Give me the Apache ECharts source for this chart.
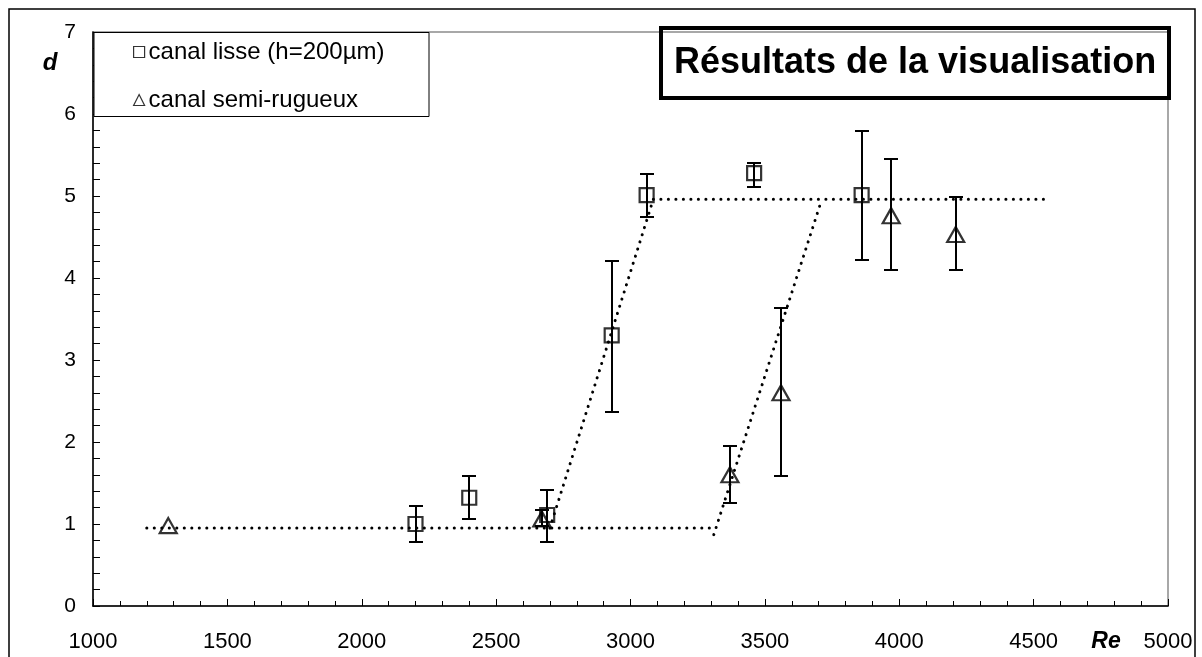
<!DOCTYPE html>
<html><head><meta charset="utf-8">
<script src="https://cdn.jsdelivr.net/npm/echarts@6/dist/echarts.min.js"></script>
<style>html,body{margin:0;padding:0;background:#fff}#c{width:1202px;height:657px}</style>
</head><body><div id="c"></div>
<script>
// ---- data ----
const smoothRe   = [2200, 2400, 2690, 2930, 3060, 3460, 3860];
const smoothD    = [1.00, 1.32, 1.11, 3.30, 5.01, 5.28, 5.01];
const smoothLow  = [0.78, 1.06, 0.78, 2.37, 4.74, 5.11, 4.22];
const smoothHigh = [1.22, 1.58, 1.42, 4.21, 5.27, 5.40, 5.79];
const roughRe    = [1280, 2670, 3370, 3560, 3970, 4210];
const roughD     = [0.98, 1.06, 1.60, 2.60, 4.76, 4.53];
const roughLow   = [null, 0.97, 1.26, 1.59, 4.10, 4.10];
const roughHigh  = [null, 1.17, 1.95, 3.63, 5.45, 4.99];
const lowPlateauRe = [1200, 3300];  const lowPlateauD = [0.95, 0.95];
const highPlateauRe = [3085, 4540]; const highPlateauD = [4.96, 4.96];
const smoothRiseRe = [2700, 3085];  const smoothRiseD = [0.95, 4.96];
const roughRiseRe = [3310, 3712];   const roughRiseD = [0.87, 4.96];
const seriesNames = ['canal lisse (h=200µm)', 'canal semi-rugueux'];
const titleText = 'Résultats de la visualisation';
const xName = 'Re', yName = 'd';

const FONT = 'Liberation Sans, Arial, sans-serif';
const pairs = (a, b) => a.map((v, i) => [v, b[i]]);

function errSeries(re, lo, hi) {
  return {
    type: 'custom', silent: true, z: 3,
    data: re.map((r, i) => lo[i] == null ? null : [r, lo[i], hi[i]]).filter(Boolean),
    encode: { x: 0, y: [1, 2] },
    renderItem(params, api) {
      const x = api.value(0);
      const p1 = api.coord([x, api.value(1)]);
      const p2 = api.coord([x, api.value(2)]);
      const cx = Math.round(p1[0]);
      const y1 = Math.round(p1[1]), y2 = Math.round(p2[1]);
      const hw = 7;
      const st = { stroke: '#000', lineWidth: 2 };
      return { type: 'group', children: [
        { type: 'line', shape: { x1: cx, y1: y1, x2: cx, y2: y2 }, style: st },
        { type: 'line', shape: { x1: cx - hw, y1: y1, x2: cx + hw, y2: y1 }, style: st },
        { type: 'line', shape: { x1: cx - hw, y1: y2, x2: cx + hw, y2: y2 }, style: st }
      ]};
    }
  };
}
function dotted(re, d) {
  return {
    type: 'line', data: pairs(re, d), symbol: 'none', silent: true, z: 2,
    lineStyle: { color: '#000', width: 3, type: [0.1, 7.4], cap: 'round' }
  };
}

const chart = echarts.init(document.getElementById('c'), null, { renderer: 'canvas' });
chart.setOption({
  animation: false,
  backgroundColor: '#fff',
  title: {
    text: titleText, left: 661, top: 28,
    borderColor: '#000', borderWidth: 4, padding: [17, 13],
    textStyle: { fontFamily: FONT, fontSize: 36, fontWeight: 'bold', color: '#000' }
  },
  legend: {
    data: [{ name: seriesNames[0], icon: 'rect' }, { name: seriesNames[1], icon: 'triangle' }],
    orient: 'vertical', left: 133, top: 40, padding: 0, itemGap: 24,
    itemWidth: 11, itemHeight: 11, z: 10, selectedMode: false,
    itemStyle: { color: 'rgba(0,0,0,0)', borderColor: '#000', borderWidth: 1.2 },
    textStyle: { fontFamily: FONT, fontSize: 24, color: '#000', padding: [0, 0, 0, -1] }
  },
  grid: { left: 93, right: 34, top: 32, bottom: 51, show: true, borderColor: '#8c8c8c', borderWidth: 1.5, backgroundColor: 'rgba(0,0,0,0)' },
  xAxis: {
    type: 'value', min: 1000, max: 5000, interval: 500,
    axisLine: { show: true, onZero: false, lineStyle: { color: '#000', width: 1.5 } },
    axisTick: { show: true, inside: true, length: 7, lineStyle: { color: '#000', width: 1 } },
    minorTick: { show: true, splitNumber: 5, length: 5, lineStyle: { color: '#000', width: 1 } },
    splitLine: { show: false },
    axisLabel: { color: '#000', fontSize: 22, fontFamily: FONT, margin: 25, formatter: v => String(v) }
  },
  yAxis: {
    type: 'value', min: 0, max: 7, interval: 1,
    axisLine: { show: true, lineStyle: { color: '#000', width: 1.5 } },
    axisTick: { show: true, inside: true, length: 7, lineStyle: { color: '#000', width: 1 } },
    minorTick: { show: true, splitNumber: 5, length: 7, lineStyle: { color: '#000', width: 1 } },
    splitLine: { show: false },
    axisLabel: { color: '#000', fontSize: 21, fontFamily: FONT, margin: 17 }
  },
  graphic: [
    { type: 'rect', z: 0, shape: { x: 9, y: 9, width: 1186, height: 660 }, style: { fill: 'none', stroke: '#000', lineWidth: 1.5 } },
    { type: 'rect', z: 3, shape: { x: 94, y: 32.5, width: 335, height: 84 }, style: { fill: '#fff', stroke: '#000', lineWidth: 1 } },
    { type: 'text', x: 50, y: 63, style: { text: yName, font: 'italic bold 24px ' + FONT, fill: '#000', textAlign: 'center', textVerticalAlign: 'middle' } },
    { type: 'text', x: 1106, y: 642, style: { text: xName, font: 'italic bold 23px ' + FONT, fill: '#000', textAlign: 'center', textVerticalAlign: 'middle' } }
  ],
  series: [
    dotted(lowPlateauRe, lowPlateauD),
    dotted(highPlateauRe, highPlateauD),
    dotted(smoothRiseRe, smoothRiseD),
    dotted(roughRiseRe, roughRiseD),
    errSeries(smoothRe, smoothLow, smoothHigh),
    errSeries(roughRe, roughLow, roughHigh),
    {
      name: seriesNames[0], type: 'scatter', data: pairs(smoothRe, smoothD), symbol: 'rect', symbolSize: 14, z: 4,
      itemStyle: { color: 'rgba(0,0,0,0)', borderColor: '#000', borderWidth: 2.2 }, emphasis: { disabled: true }
    },
    {
      name: seriesNames[1], type: 'scatter', data: pairs(roughRe, roughD), symbol: 'triangle', symbolSize: [17, 15], z: 4,
      itemStyle: { color: 'rgba(0,0,0,0)', borderColor: '#000', borderWidth: 2.2 }, emphasis: { disabled: true }
    }
  ]
});
</script></body></html>
